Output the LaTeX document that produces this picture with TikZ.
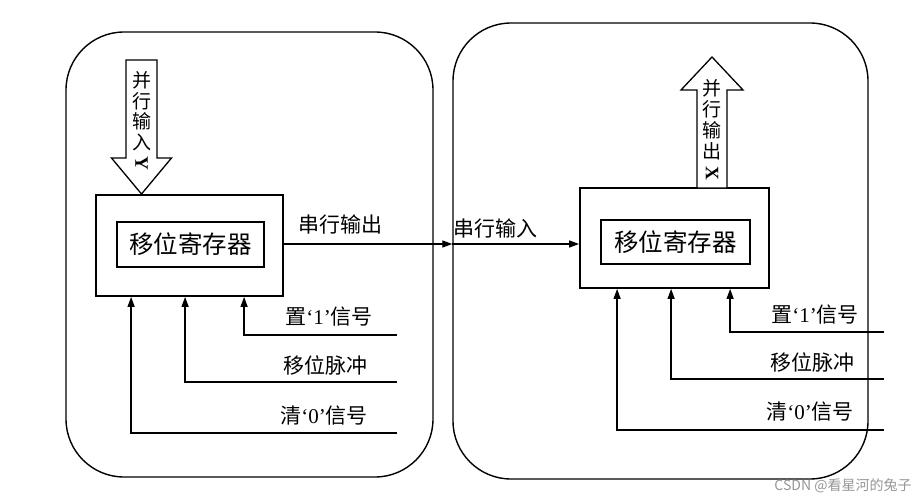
\documentclass[tikz,border=0pt]{standalone}
\usepackage{fontspec}
\usepackage{graphicx}
\usepackage{tikz}
\usetikzlibrary{positioning,arrows.meta,calc}
\setmainfont{Liberation Serif}
\newfontfamily\cjk{Noto Sans CJK SC}
\definecolor{wmgray}{RGB}{150,150,150}
\newcommand{\tightlines}{\lineskiplimit=-30pt\relax}
\tikzset{
  frame/.style={draw, line width=1.4pt, rounded corners=58pt, inner sep=0pt},
  regbox/.style={draw, line width=1.8pt, inner sep=0pt},
  corebox/.style={draw, line width=1.8pt, inner sep=0pt, font=\cjk\fontsize{24.5}{27}\selectfont},
  sig/.style={-{Triangle[length=10pt,width=7pt]}, line width=1.3pt},
  fat/.style={draw, line width=1.3pt, fill=white, line join=miter},
  vtext/.style={align=center, inner sep=0pt, font=\cjk\fontsize{19}{20.5}\selectfont\tightlines},
  lbl/.style={inner sep=0pt, font=\cjk\fontsize{21}{24}\selectfont}
}
\newcommand{\qt}[1]{{\rmfamily ‘#1’}}
\newcommand{\lying}[1]{\rotatebox[origin=c]{-90}{\rmfamily\bfseries #1}}
\begin{document}
\begin{tikzpicture}[x=1pt, y=-1pt]
    \useasboundingbox (0,0) rectangle (923,500);
    % two outer frames
    \node[frame, minimum width=367pt, minimum height=445pt] (frameL) at (249.5,254.5) {};
    \node[frame, minimum width=415pt, minimum height=456pt] (frameR) at (660.5,251) {};
    % shift registers
    \node[regbox, minimum width=187pt, minimum height=101pt] (regL) at (189.5,245.5) {};
    \node[corebox, minimum width=147pt, minimum height=45pt] (coreL) at (190.5,244.5) {移位寄存器};
    \node[regbox, minimum width=189pt, minimum height=100pt] (regR) at (674.5,238) {};
    \node[corebox, minimum width=149pt, minimum height=44pt] (coreR) at (675.5,242) {移位寄存器};
    % parallel in / out
    \coordinate (tipL) at (141.5,194);
    \draw[fat] (tipL) -- ++(30,-36) -- ++(-14.5,0) -- ++(0,-98) -- ++(-31,0) -- ++(0,98) -- ++(-14.5,0) -- cycle;
    \node[vtext] (inL) at (141.5,121) {并\\行\\输\\入\\\lying{Y}};
    \coordinate (tipR) at (712,57);
    \draw[fat] (tipR) -- ++(31,33) -- ++(-16,0) -- ++(0,98) -- ++(-30,0) -- ++(0,-98) -- ++(-16,0) -- cycle;
    \node[vtext, font=\cjk\fontsize{19}{21}\selectfont\tightlines] (outR) at (712,130) {并\\行\\输\\出\\\lying{X}};
    % serial link
    \coordinate (serL) at ($(regL.east)+(0,-1.5)$);
    \coordinate (mid) at (serL -| frameR.west);
    \draw[sig] (serL) -- (mid);
    \draw[sig] (mid) -- (serL -| regR.west);
    \node[lbl] (soutL) at (340,225) {串行输出};
    \node[lbl] (sinR) at (495,229) {串行输入};
    % control lines, left
    \coordinate (setL) at (397,335);
    \coordinate (shL) at (397,382);
    \coordinate (clrL) at (397,433);
    \draw[sig] (setL) -| ([xshift=149pt]regL.south west);
    \draw[sig] (shL) -| ([xshift=90pt]regL.south west);
    \draw[sig] (clrL) -| ([xshift=36pt]regL.south west);
    \node[lbl] (setLt) at (329,317) {置\qt{1}信号};
    \node[lbl] (shLt) at (325,365) {移位脉冲};
    \node[lbl] (clrLt) at (324,416) {清\qt{0}信号};
    % control lines, right
    \coordinate (setR) at (884,332);
    \coordinate (shR) at (884,379);
    \coordinate (clrR) at (884,430);
    \draw[sig] (setR) -| ([xshift=151pt]regR.south west);
    \draw[sig] (shR) -| ([xshift=92pt]regR.south west);
    \draw[sig] (clrR) -| ([xshift=38pt]regR.south west);
    \node[lbl] (setRt) at (815,315) {置\qt{1}信号};
    \node[lbl] (shRt) at (812,362) {移位脉冲};
    \node[lbl] (clrRt) at (810,412) {清\qt{0}信号};
    % watermark
    \node[inner sep=0pt, text=wmgray, font=\cjk\fontsize{14}{16}\selectfont] (wm) at (843,486) {CSDN @看星河的兔子};
  \end{tikzpicture}
\end{document}
